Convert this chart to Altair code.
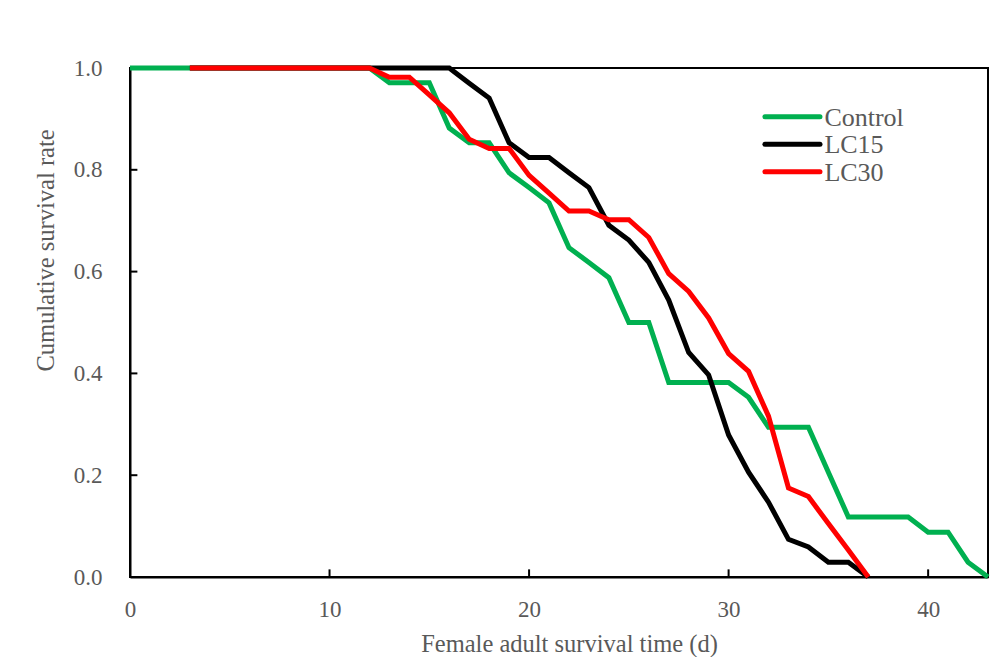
import altair as alt
import pandas as pd

# ---- data ----
series_names = ["Control", "LC15", "LC30"]
series_colors = ["#00B050", "#000000", "#FF0000"]

days_control = list(range(0, 44))
control = [1.0, 1.0, 1.0, 1.0, 1.0, 1.0, 1.0, 1.0, 1.0, 1.0, 1.0, 1.0, 1.0,
           0.971, 0.971, 0.971, 0.882, 0.853, 0.853, 0.794, 0.765, 0.735,
           0.647, 0.618, 0.588, 0.5, 0.5, 0.382, 0.382, 0.382, 0.382, 0.353,
           0.294, 0.294, 0.294, 0.206, 0.118, 0.118, 0.118, 0.118, 0.088,
           0.088, 0.029, 0.0]

days_lc15 = list(range(3, 38))
lc15 = [1.0, 1.0, 1.0, 1.0, 1.0, 1.0, 1.0, 1.0, 1.0, 1.0, 1.0, 1.0, 1.0, 1.0,
        0.97, 0.941, 0.853, 0.824, 0.824, 0.794, 0.765, 0.691, 0.662, 0.618,
        0.544, 0.441, 0.397, 0.279, 0.206, 0.147, 0.074, 0.059, 0.029, 0.029,
        0.0]

days_lc30 = list(range(3, 38))
lc30 = [1.0, 1.0, 1.0, 1.0, 1.0, 1.0, 1.0, 1.0, 1.0, 1.0,
        0.982, 0.982, 0.947, 0.912, 0.86, 0.842, 0.842, 0.789, 0.754, 0.719,
        0.719, 0.702, 0.702, 0.667, 0.596, 0.561, 0.509, 0.439, 0.404, 0.316,
        0.175, 0.158, 0.105, 0.053, 0.0]

x_ticks = [0, 10, 20, 30, 40]
y_ticks = [0.0, 0.2, 0.4, 0.6, 0.8, 1.0]
x_inner_ticks = [10, 20, 30, 40]
y_inner_ticks = [0.2, 0.4, 0.6, 0.8]

rows = []
for name, days, vals in [("Control", days_control, control),
                         ("LC15", days_lc15, lc15),
                         ("LC30", days_lc30, lc30)]:
    for i, (d, v) in enumerate(zip(days, vals)):
        rows.append({"series": name, "day": d, "rate": v, "order": i})
df = pd.DataFrame(rows)

FONT = "Liberation Serif"
GRAY = "#595959"

x_scale = alt.Scale(domain=[0, 43], nice=False, zero=False)
y_scale = alt.Scale(domain=[0, 1], nice=False)
color_scale = alt.Scale(domain=series_names, range=series_colors)

lines = alt.Chart(df).mark_line(strokeWidth=5).encode(
    x=alt.X("day:Q", scale=x_scale,
            axis=alt.Axis(values=x_ticks, format="d", title="Female adult survival time (d)",
                          ticks=False, grid=False, domainColor="black", domainWidth=2,
                          labelFlush=False,
                          labelPadding=21, titlePadding=11, titleX=439)),
    y=alt.Y("rate:Q", scale=y_scale,
            axis=alt.Axis(values=y_ticks, format=".1f", title="Cumulative survival rate",
                          ticks=False, grid=False, domainColor="black", domainWidth=2,
                          labelFlush=False,
                          labelPadding=28, titlePadding=15, titleY=182)),
    color=alt.Color("series:N", scale=color_scale, legend=None),
    order=alt.Order("order:Q"),
)

# inner tick marks
xt_df = pd.DataFrame({"t": x_inner_ticks, "lo": [0.0] * 4, "hi": [0.015] * 4})
yt_df = pd.DataFrame({"t": y_inner_ticks, "lo": [0.0] * 4, "hi": [0.37] * 4})

xt = alt.Chart(xt_df).mark_rule(color="black", strokeWidth=2).encode(
    x=alt.X("t:Q", scale=x_scale),
    y=alt.Y("lo:Q", scale=y_scale),
    y2="hi:Q",
)
yt = alt.Chart(yt_df).mark_rule(color="black", strokeWidth=2).encode(
    y=alt.Y("t:Q", scale=y_scale),
    x=alt.X("lo:Q", scale=x_scale),
    x2="hi:Q",
)

# legend (inside the plot, upper right), placed in data units
leg_x0, leg_x1, leg_tx = 31.82, 34.58, 34.8
leg_y_top, leg_step = 0.904, 0.054
leg_df = pd.DataFrame({
    "series": series_names,
    "x0": [leg_x0] * 3,
    "x1": [leg_x1] * 3,
    "tx": [leg_tx] * 3,
    "y": [leg_y_top - i * leg_step for i in range(3)],
})

leg_lines = alt.Chart(leg_df).mark_rule(strokeWidth=5, strokeCap="round").encode(
    x=alt.X("x0:Q", scale=x_scale),
    x2="x1:Q",
    y=alt.Y("y:Q", scale=y_scale),
    color=alt.Color("series:N", scale=color_scale, legend=None),
)
leg_text = alt.Chart(leg_df).mark_text(
    align="left", baseline="middle", font=FONT, fontSize=26, color=GRAY, dy=1
).encode(
    x=alt.X("tx:Q", scale=x_scale),
    y=alt.Y("y:Q", scale=y_scale),
    text="series:N",
)

chart = alt.layer(lines, xt, yt, leg_lines, leg_text).properties(
    width=858, height=509,
    autosize=alt.AutoSizeParams(type="none"),
    padding={"left": 122, "top": 60, "right": 12, "bottom": 80},
    background="white",
).configure_axis(
    labelFont=FONT, labelFontSize=23, labelColor=GRAY,
    titleFont=FONT, titleFontSize=24.5, titleColor=GRAY, titleFontWeight="normal",
).configure_view(
    stroke="black", strokeWidth=2,
)

chart.save("out.html", embed_options={"renderer": "svg", "actions": False})
